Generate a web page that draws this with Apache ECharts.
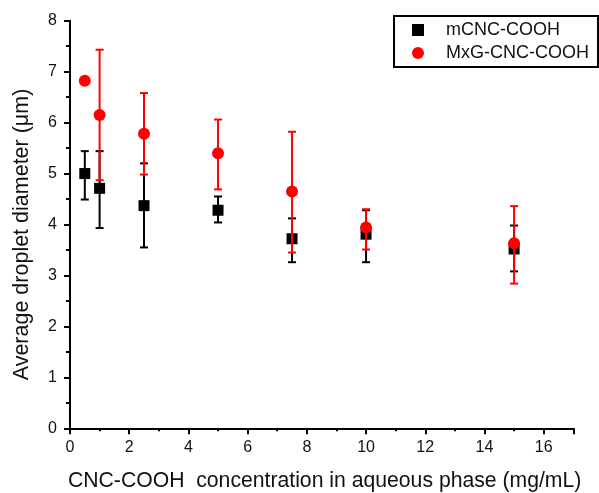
<!DOCTYPE html>
<html>
<head>
<meta charset="utf-8">
<script src="https://cdn.jsdelivr.net/npm/echarts@6/dist/echarts.min.js"></script>
<style>html,body{margin:0;padding:0;background:#fff;}#c{width:599px;height:493px;}</style>
</head>
<body>
<div id="c"></div>
<script>
// Data
const concentrations = [0.5, 1, 2.5, 5, 7.5, 10, 15];
const mcncMean = [5.00, 4.71, 4.37, 4.28, 3.72, 3.81, 3.52];
const mcncLow  = [4.49, 3.93, 3.55, 4.04, 3.26, 3.26, 3.08];
const mcncHigh = [5.44, 5.44, 5.20, 4.55, 4.12, 4.28, 3.98];
const mxgMean  = [6.82, 6.15, 5.78, 5.40, 4.65, 3.94, 3.63];
const mxgLow   = [6.82, 4.87, 4.98, 4.69, 3.45, 3.51, 2.84];
const mxgHigh  = [6.82, 7.43, 6.58, 6.06, 5.82, 4.30, 4.36];
const seriesNames = ['mCNC-COOH', 'MxG-CNC-COOH'];
const xTitle = 'CNC-COOH  concentration in aqueous phase (mg/mL)';
const yTitle = 'Average droplet diameter (\u03bcm)';

const FONT = '"Liberation Sans", Arial, sans-serif';

function pts(xs, ys) { return xs.map((x, i) => [x, ys[i]]); }
function errs(xs, lo, hi) { return xs.map((x, i) => [x, lo[i], hi[i]]); }

function errRender(color) {
  return function (params, api) {
    const x = api.value(0), lo = api.value(1), hi = api.value(2);
    if (lo === hi) return null;
    const pLo = api.coord([x, lo]);
    const pHi = api.coord([x, hi]);
    const w = 4;
    const style = { stroke: color, lineWidth: 2 };
    return {
      type: 'group',
      children: [
        { type: 'line', shape: { x1: pLo[0], y1: pLo[1], x2: pHi[0], y2: pHi[1] }, style: style },
        { type: 'line', shape: { x1: pLo[0] - w, y1: pLo[1], x2: pLo[0] + w, y2: pLo[1] }, style: style },
        { type: 'line', shape: { x1: pHi[0] - w, y1: pHi[1], x2: pHi[0] + w, y2: pHi[1] }, style: style }
      ]
    };
  };
}

const chart = echarts.init(document.getElementById('c'), null, { renderer: 'canvas' });
chart.setOption({
  animation: false,
  backgroundColor: '#fff',
  textStyle: { fontFamily: FONT },
  grid: { left: 70, top: 20.7, right: 25.7, bottom: 64.7, containLabel: false, outerBoundsMode: 'none' },
  legend: {
    orient: 'vertical',
    left: 394, top: 16,
    padding: [5, 9, 5, 18],
    itemGap: 5,
    itemWidth: 12, itemHeight: 12,
    borderColor: '#000', borderWidth: 2, borderRadius: 0,
    backgroundColor: '#fff',
    textStyle: { fontSize: 18, color: '#111', fontFamily: FONT, lineHeight: 18, padding: [0, 0, 0, 17] },
    data: [
      { name: seriesNames[0], icon: 'rect', itemStyle: { color: '#000' } },
      { name: seriesNames[1], icon: 'circle', itemStyle: { color: '#ff0000' } }
    ]
  },
  xAxis: {
    type: 'value', min: 0, max: 17, interval: 2,
    name: xTitle, nameLocation: 'middle', nameGap: 42,
    nameTextStyle: { fontSize: 21.2, color: '#111', fontFamily: FONT, padding: [0, 0, 0, 6] },
    axisLine: { show: true, onZero: false, lineStyle: { color: '#000', width: 2 } },
    axisTick: { show: true, length: 6, lineStyle: { color: '#000', width: 2 } },
    minorTick: { show: true, splitNumber: 2, length: 3, lineStyle: { color: '#000', width: 2 } },
    splitLine: { show: false },
    axisLabel: { fontSize: 16, color: '#111', margin: 11, showMaxLabel: false, fontFamily: FONT }
  },
  yAxis: {
    type: 'value', min: 0, max: 8, interval: 1,
    name: yTitle, nameLocation: 'middle', nameGap: 37,
    nameTextStyle: { fontSize: 21.5, color: '#111', fontFamily: FONT, padding: [0, 20, 0, 0] },
    axisLine: { show: true, onZero: false, lineStyle: { color: '#000', width: 2 } },
    axisTick: { show: true, length: 6, lineStyle: { color: '#000', width: 2 } },
    minorTick: { show: true, splitNumber: 2, length: 4, lineStyle: { color: '#000', width: 2 } },
    splitLine: { show: false },
    axisLabel: { fontSize: 16, color: '#111', margin: 13, fontFamily: FONT }
  },
  series: [
    {
      name: seriesNames[0] + ' err', type: 'custom', renderItem: errRender('#000'),
      encode: { x: 0, y: [1, 2] }, data: errs(concentrations, mcncLow, mcncHigh), z: 2, silent: true
    },
    {
      name: seriesNames[0], type: 'scatter', symbol: 'rect', symbolSize: 11,
      itemStyle: { color: '#000', opacity: 1 }, data: pts(concentrations, mcncMean), z: 3
    },
    {
      name: seriesNames[1] + ' err', type: 'custom', renderItem: errRender('#ff0000'),
      encode: { x: 0, y: [1, 2] }, data: errs(concentrations, mxgLow, mxgHigh), z: 4, silent: true
    },
    {
      name: seriesNames[1], type: 'scatter', symbol: 'circle', symbolSize: 12,
      itemStyle: { color: '#ff0000', opacity: 1 }, data: pts(concentrations, mxgMean), z: 5
    }
  ]
});
</script>
</body>
</html>
